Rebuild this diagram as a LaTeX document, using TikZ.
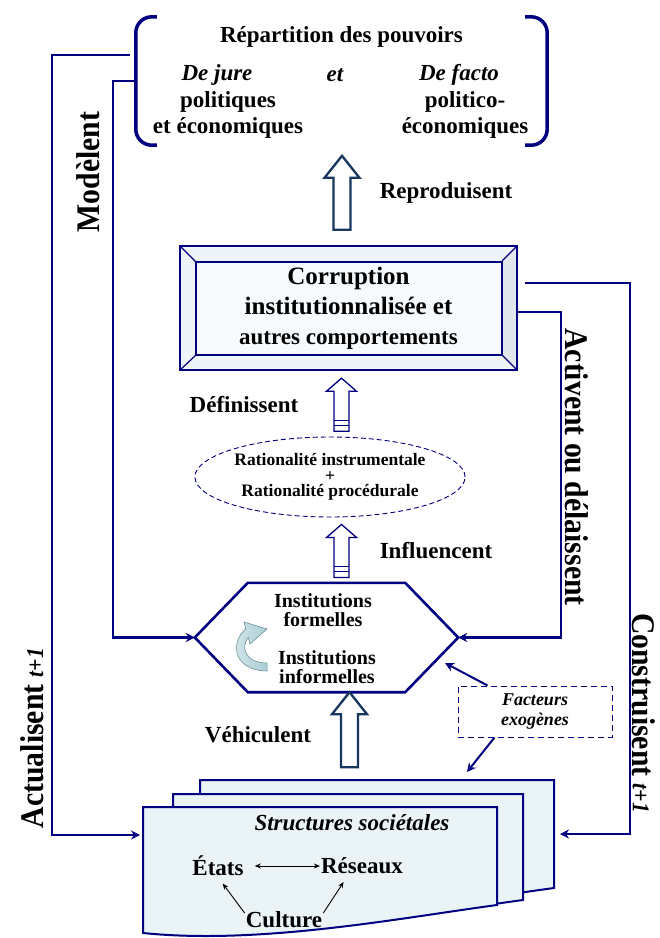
\documentclass[tikz,border=0pt]{standalone}
\usepackage{fontspec}
\setmainfont{Liberation Serif}
\usetikzlibrary{positioning, calc, arrows.meta, shapes.geometric, backgrounds}

\definecolor{dnavy}{RGB}{0,0,128}
\definecolor{slate}{RGB}{23,55,94}
\definecolor{sheetfill}{RGB}{234,244,247}
\definecolor{bevlight}{RGB}{238,244,247}
\definecolor{bevdark}{RGB}{226,231,235}
\definecolor{bevinner}{RGB}{247,250,252}
\definecolor{curlfill}{RGB}{170,206,214}
\definecolor{curlline}{RGB}{96,130,140}

\tikzset{
  conn/.style={dnavy, line width=2.2pt, -{Stealth[length=9pt, width=9pt]}},
  lbl/.style={font=\bfseries\fontsize{23}{27}\selectfont, inner sep=1pt},
  sidelbl/.style={font=\bfseries\fontsize{33}{37}\selectfont, inner sep=1pt},
  fatarrow/.style={draw=slate, line width=2.3pt, fill=white},
  stripeblock/.style={draw=dnavy, line width=1.3pt, fill=white},
  sheet/.style={draw=dnavy, line width=2pt, fill=sheetfill},
  thinarr/.style={black, line width=0.9pt, -{Stealth[length=6pt, width=5pt]}},
  pics/fatup/.style={code={\draw[fatarrow] (0,0) -- (17.5,22) -- (8.5,22) -- (8.5,#1) -- (-8.5,#1) -- (-8.5,22) -- (-17.5,22) -- cycle;}},
  pics/stripeup/.style={code={
    \draw[stripeblock] (0,0) -- (15,13) -- (7.5,13) -- (7.5,53) -- (-7.5,53) -- (-7.5,13) -- (-15,13) -- cycle;
    \draw[stripeblock] (-7.5,42) -- (7.5,42) (-7.5,47) -- (7.5,47);}}
}

\begin{document}
\begin{tikzpicture}[x=1pt, y=-1pt]
  \useasboundingbox (0,0) rectangle (660,938);

  \node[minimum width=411pt, minimum height=128pt, inner sep=0] (rep) at (341.5,81) {};
  \draw[dnavy, line width=3.5pt, rounded corners=16pt] ([xshift=21pt]rep.north west) -- (rep.north west) -- (rep.south west) -- ([xshift=21pt]rep.south west);
  \draw[dnavy, line width=3.5pt, rounded corners=16pt] ([xshift=-22pt]rep.north east) -- (rep.north east) -- (rep.south east) -- ([xshift=-22pt]rep.south east);
  \node[lbl] (reptitle) at (341.5,37) {Répartition des pouvoirs};
  \node[lbl, font=\bfseries\itshape\fontsize{23}{27}\selectfont] (jure) at (217,75) {De jure};
  \node[lbl, font=\bfseries\itshape\fontsize{23}{27}\selectfont] (et) at (335,75) {et};
  \node[lbl, font=\bfseries\itshape\fontsize{23}{27}\selectfont] (facto) at (459,75) {De facto};
  \node[lbl, align=center, font=\bfseries\fontsize{23}{26}\selectfont] (pol) at (228,115) {politiques\\et économiques};
  \node[lbl, align=center, font=\bfseries\fontsize{23}{26}\selectfont] (polfact) at (465,115) {politico-\\économiques};

  \node[align=center, font=\bfseries\fontsize{25}{30}\selectfont, minimum width=337pt, minimum height=124pt, inner sep=0] (corr) at (348.5,308)
    {Corruption\\institutionnalisée et\\{\fontsize{23}{30}\selectfont autres comportements}};
  \begin{scope}[on background layer]
    \fill[bevlight] (corr.north west) rectangle (corr.south east);
    \fill[bevdark] (corr.north east) -- (corr.south east) -- ($(corr.south east)+(-15,-15)$) -- ($(corr.north east)+(-15,15)$) -- cycle;
    \filldraw[fill=bevinner, draw=dnavy, line width=1.6pt] ($(corr.north west)+(16,16)$) rectangle ($(corr.south east)+(-15,-15)$);
    \draw[dnavy, line width=1.2pt] (corr.north west) -- ++(16,16) (corr.north east) -- ++(-15,15)
      (corr.south east) -- ++(-15,-15) (corr.south west) -- ++(16,-15);
    \draw[dnavy, line width=1.8pt] (corr.north west) rectangle (corr.south east);
  \end{scope}

  \pic at ([xshift=-6.5pt, yshift=90pt]corr.north) {fatup=74};
  \node[lbl] (repro) at (446,193) {Reproduisent};

  \pic at ([xshift=-7pt, yshift=-8pt]corr.south) {stripeup};
  \node[lbl] (defin) at (244,405) {Définissent};

  \node[draw=dnavy, dash pattern=on 5pt off 3pt, line width=0.9pt, ellipse, minimum width=270pt, minimum height=80pt, inner sep=0,
    align=center, font=\bfseries\fontsize{17.5}{15.5}\selectfont] (rat) at (330,477) {Rationalité instrumentale\\+\\Rationalité procédurale};

  \pic at ([xshift=11.5pt, yshift=-7pt]rat.south) {stripeup};
  \node[lbl] (influ) at (436,551) {Influencent};

  \node[minimum width=263pt, minimum height=109pt, inner sep=0] (hex) at (326.5,637.5) {};
  \draw[dnavy, line width=2.6pt] (hex.west) -- ([xshift=53pt]hex.north west) -- ([xshift=-53pt]hex.north east) -- (hex.east)
    -- ([xshift=-53pt]hex.south east) -- ([xshift=53pt]hex.south west) -- cycle;
  \node[align=center, font=\bfseries\fontsize{20}{18.5}\selectfont, inner sep=1pt] (formel) at (323,610) {Institutions\\formelles};
  \node[align=center, font=\bfseries\fontsize{20}{18.5}\selectfont, inner sep=1pt] (informel) at (327,667) {Institutions\\informelles};
  \path[draw=curlline, line width=0.5pt, left color=curlfill!45!white, right color=curlfill]
    (267,663) .. controls (246,663) and (240,648) .. (248.2,637.4) -- (250,644) -- (267,629) -- (244,622) -- (245.8,628.6)
    .. controls (228,645) and (236,671) .. (267,671) -- cycle;

  \pic at ([xshift=23pt]hex.south) {fatup=75};
  \node[lbl] (vehic) at (258,735) {Véhiculent};

  \node[draw=dnavy, dash pattern=on 6pt off 4pt, line width=1pt, minimum width=154pt, minimum height=51pt, inner sep=0,
    align=center, font=\bfseries\itshape\fontsize{18}{20}\selectfont] (fact) at (535,711.5) {Facteurs\\exogènes};

  \foreach \sx/\sy/\sb/\sw in {200/780/888/354, 173/794/900/350, 143/807/905/354} {
    \draw[sheet] (\sx,\sy) -- ++(\sw,0) -- (\sx+\sw,\sb) .. controls (\sx+\sw-97,\sb+13) and (\sx+117,\sb+40) .. (\sx,\sb+28) -- cycle;
  }
  \node[font=\bfseries\itshape\fontsize{23}{27}\selectfont, inner sep=1pt] (struct) at (352,823) {Structures sociétales};
  \node[lbl] (etats) at (218,866) {États};
  \node[lbl] (reseaux) at (362,866) {Réseaux};
  \node[lbl] (culture) at (284,920) {Culture};
  \draw[thinarr, {Stealth[length=6pt, width=5pt]}-{Stealth[length=6pt, width=5pt]}, shorten <=10pt] (etats) -- (reseaux);
  \draw[thinarr, shorten >=8pt] (culture.170) -- (etats.south);
  \draw[thinarr, shorten >=8pt] (culture.10) -- ([xshift=-14pt]reseaux.south);

  \coordinate (acttop) at (130,55);
  \coordinate (docL) at (140,835);
  \coordinate (docR) at (560,834);
  \coordinate (hexin) at (445,663);
  \coordinate (docT) at (467,772);
  \draw[conn] (acttop) -- ++(-78,0) |- (docL);
  \draw[conn] (rep.west) -- ++(-23,0) |- (hex.west);
  \draw[conn] ([yshift=-4pt]corr.east) -- ++(44,0) |- (hex.east);
  \draw[conn] ([xshift=8pt, yshift=25pt]corr.east) -- ++(105,0) |- (docR);
  \draw[conn, line width=2pt] ([xshift=30pt]fact.north west) -- (hexin);
  \draw[conn, line width=2pt] ([xshift=37pt]fact.south west) -- (docT);

  \node[sidelbl, rotate=90] (modl) at (88,172) {\scalebox{0.9}[1]{Modèlent}};
  \node[sidelbl, rotate=90] (actl) at (32,738) {\scalebox{0.9}[1]{Actualisent {\itshape\fontsize{24}{24}\selectfont t+1}}};
  \node[sidelbl, rotate=-90] (activl) at (577,467) {\scalebox{0.9}[1]{Activent ou délaissent}};
  \node[sidelbl, rotate=-90] (constl) at (644,713) {\scalebox{0.9}[1]{Construisent {\itshape\fontsize{24}{24}\selectfont t+1}}};
\end{tikzpicture}
\end{document}
